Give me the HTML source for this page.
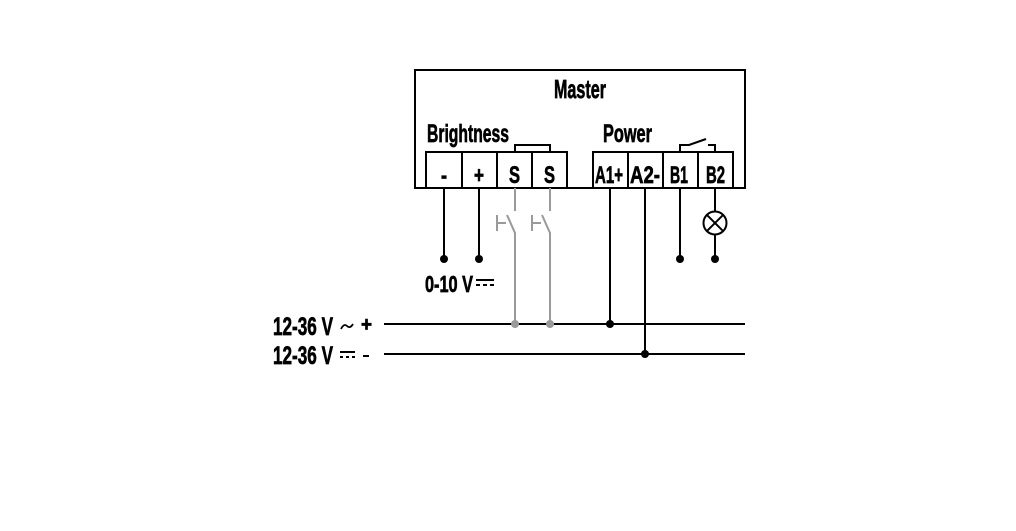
<!DOCTYPE html>
<html><head><meta charset="utf-8"><style>
html,body{margin:0;padding:0;background:#fff;}
svg{display:block;}
text{font-family:"Liberation Sans",sans-serif;font-weight:bold;fill:#000;stroke:#000;stroke-width:0.7px;}
</style></head><body>
<svg width="1016" height="531" viewBox="0 0 1016 531" xmlns="http://www.w3.org/2000/svg">
<!-- Master box -->
<rect x="415" y="70" width="330" height="118" fill="none" stroke="#000" stroke-width="2"/>
<text x="554" y="98" font-size="26" textLength="52" lengthAdjust="spacingAndGlyphs">Master</text>
<text x="427" y="142" font-size="25" textLength="82" lengthAdjust="spacingAndGlyphs">Brightness</text>
<text x="603" y="142" font-size="25" textLength="49" lengthAdjust="spacingAndGlyphs">Power</text>

<!-- Terminal group 1 -->
<rect x="426" y="152" width="141" height="36" fill="none" stroke="#000" stroke-width="2"/>
<line x1="462" y1="152" x2="462" y2="188" stroke="#000" stroke-width="2"/>
<line x1="497" y1="152" x2="497" y2="188" stroke="#000" stroke-width="2"/>
<line x1="532" y1="152" x2="532" y2="188" stroke="#000" stroke-width="2"/>
<!-- bridge S-S -->
<polyline points="515,152 515,145 550,145 550,152" fill="none" stroke="#000" stroke-width="2"/>
<text x="441" y="183" font-size="23" textLength="6" lengthAdjust="spacingAndGlyphs">-</text>
<text x="474" y="183" font-size="23" textLength="10" lengthAdjust="spacingAndGlyphs">+</text>
<text x="509" y="183" font-size="24" textLength="11" lengthAdjust="spacingAndGlyphs">S</text>
<text x="544" y="183" font-size="24" textLength="11" lengthAdjust="spacingAndGlyphs">S</text>

<!-- Terminal group 2 -->
<rect x="593" y="152" width="140" height="36" fill="none" stroke="#000" stroke-width="2"/>
<line x1="628" y1="152" x2="628" y2="188" stroke="#000" stroke-width="2"/>
<line x1="663" y1="152" x2="663" y2="188" stroke="#000" stroke-width="2"/>
<line x1="698" y1="152" x2="698" y2="188" stroke="#000" stroke-width="2"/>
<text x="595" y="183" font-size="24" textLength="28" lengthAdjust="spacingAndGlyphs">A1+</text>
<text x="630" y="183" font-size="24" textLength="30" lengthAdjust="spacingAndGlyphs">A2-</text>
<text x="670" y="183" font-size="24" textLength="18" lengthAdjust="spacingAndGlyphs">B1</text>
<text x="706" y="183" font-size="24" textLength="19" lengthAdjust="spacingAndGlyphs">B2</text>
<!-- relay contact -->
<polyline points="680,152 680,145 689,145 706,139" fill="none" stroke="#000" stroke-width="2"/>
<polyline points="708,145 715,145 715,152" fill="none" stroke="#000" stroke-width="2"/>

<!-- black wires -->
<g stroke="#000" stroke-width="2" fill="none">
<line x1="444" y1="188" x2="444" y2="259"/>
<line x1="479" y1="188" x2="479" y2="259"/>
<line x1="610" y1="188" x2="610" y2="324"/>
<line x1="645" y1="188" x2="645" y2="354"/>
<line x1="680" y1="188" x2="680" y2="259"/>
<line x1="715" y1="188" x2="715" y2="211"/>
<line x1="715" y1="235" x2="715" y2="259"/>
<circle cx="715" cy="223" r="11.5"/>
<line x1="706.9" y1="214.9" x2="723.1" y2="231.1"/>
<line x1="723.1" y1="214.9" x2="706.9" y2="231.1"/>
<line x1="384" y1="324" x2="745" y2="324"/>
<line x1="384" y1="354" x2="745" y2="354"/>
</g>
<g fill="#000">
<circle cx="444" cy="259" r="4"/>
<circle cx="479" cy="259" r="4"/>
<circle cx="680" cy="259" r="4"/>
<circle cx="715" cy="259" r="4"/>
<circle cx="610" cy="324" r="4"/>
<circle cx="645" cy="354" r="4"/>
</g>

<!-- gray switch wires -->
<g stroke="#9a9a9a" stroke-width="2" fill="none">
<line x1="515" y1="188" x2="515" y2="211"/>
<polyline points="507,215 515,233 515,324"/>
<line x1="497" y1="215" x2="497" y2="231"/>
<line x1="497" y1="223" x2="506" y2="223"/>
<line x1="550" y1="188" x2="550" y2="211"/>
<polyline points="542,215 550,233 550,324"/>
<line x1="532" y1="215" x2="532" y2="231"/>
<line x1="532" y1="223" x2="541" y2="223"/>
</g>
<g fill="#9a9a9a">
<circle cx="515" cy="324" r="4"/>
<circle cx="550" cy="324" r="4"/>
</g>

<!-- 0-10 V label -->
<text x="425" y="292" font-size="23" textLength="48" lengthAdjust="spacingAndGlyphs">0-10 V</text>
<g stroke="#000" stroke-width="2">
<line x1="476" y1="280" x2="494" y2="280"/>
<line x1="476" y1="285" x2="480" y2="285"/>
<line x1="483" y1="285" x2="487" y2="285"/>
<line x1="490" y1="285" x2="494" y2="285"/>
</g>

<!-- supply labels -->
<text x="273" y="335" font-size="25" textLength="60" lengthAdjust="spacingAndGlyphs">12-36 V</text>
<path d="M341,329 Q344,323 347,326 T353,324" fill="none" stroke="#000" stroke-width="1.8"/>
<text x="361" y="331" font-size="20" textLength="11" lengthAdjust="spacingAndGlyphs">+</text>
<text x="273" y="364" font-size="25" textLength="60" lengthAdjust="spacingAndGlyphs">12-36 V</text>
<g stroke="#000" stroke-width="2">
<line x1="340" y1="352" x2="355" y2="352"/>
<line x1="340" y1="357" x2="343" y2="357"/>
<line x1="346" y1="357" x2="349" y2="357"/>
<line x1="352" y1="357" x2="355" y2="357"/>
<line x1="363" y1="356" x2="369" y2="356"/>
</g>
</svg>
</body></html>
